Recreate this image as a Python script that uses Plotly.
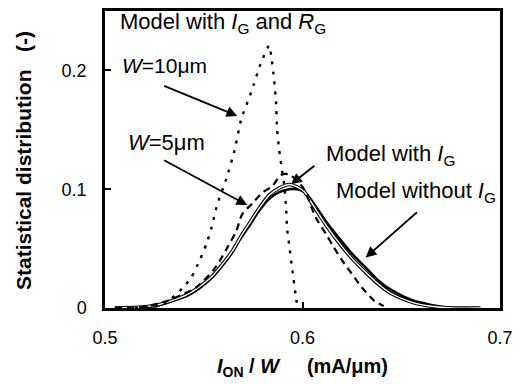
import plotly.graph_objects as go

# I_ON / W (mA/um) and statistical distribution for each model
x_w10_ig_rg = [0.515, 0.5292, 0.5338, 0.5393, 0.5438, 0.5479, 0.5514, 0.5539, 0.5569, 0.5615,
               0.5655, 0.5690, 0.5741, 0.5791, 0.5831, 0.5841, 0.5856, 0.5866, 0.5871, 0.5881,
               0.5892, 0.5907, 0.5917, 0.5922, 0.5932, 0.5947, 0.5967, 0.5975]
y_w10_ig_rg = [0.0, 0.0025, 0.0083, 0.0167, 0.026, 0.040, 0.054, 0.0675, 0.0875, 0.109,
               0.132, 0.159, 0.182, 0.207, 0.221, 0.213, 0.1925, 0.173, 0.151, 0.134,
               0.121, 0.104, 0.084, 0.067, 0.054, 0.034, 0.009, 0.0]

x_w5_ig_rg = [0.505, 0.5191, 0.5327, 0.5388, 0.5463, 0.5554, 0.5620, 0.5665, 0.5695, 0.5746,
              0.5796, 0.5846, 0.5892, 0.5932, 0.5972, 0.6008, 0.6068, 0.6118, 0.6159, 0.6209,
              0.6249, 0.6300, 0.6360, 0.6411]
y_w5_ig_rg = [0.0, 0.0008, 0.0067, 0.011, 0.0175, 0.033, 0.051, 0.065, 0.079, 0.088,
              0.097, 0.1025, 0.112, 0.1125, 0.107, 0.100, 0.076, 0.0625, 0.051, 0.038,
              0.029, 0.0175, 0.0067, 0.0017]

x_model = [0.505, 0.5191, 0.5277, 0.5353, 0.5413, 0.5479, 0.5544, 0.5605, 0.5645, 0.5680,
           0.5730, 0.5781, 0.5831, 0.5882, 0.5932, 0.5972, 0.6008, 0.6048, 0.6118, 0.6184,
           0.6249, 0.6320, 0.6385, 0.6451, 0.6552, 0.6652, 0.6753, 0.69]
y_with_ig = [0.0, 0.0008, 0.003, 0.007, 0.011, 0.018, 0.027, 0.039, 0.048, 0.058,
             0.071, 0.084, 0.095, 0.101, 0.104, 0.102, 0.098, 0.088, 0.070, 0.055,
             0.042, 0.030, 0.020, 0.012, 0.005, 0.0015, 0.0, 0.0]
y_without_ig = [0.0, 0.0008, 0.0025, 0.0067, 0.010, 0.0167, 0.026, 0.038, 0.047, 0.057,
                0.069, 0.082, 0.092, 0.0975, 0.100, 0.100, 0.098, 0.090, 0.073, 0.059,
                0.046, 0.034, 0.023, 0.015, 0.0067, 0.0025, 0.0, 0.0]

x_ticks = [0.5, 0.6, 0.7]
x_tick_text = ["0.5", "0.6", "0.7"]
y_ticks = [0, 0.1, 0.2]
y_tick_text = ["0", "0.1", "0.2"]

FONT = "Liberation Sans, Arial, sans-serif"

fig = go.Figure()
fig.add_trace(go.Scatter(x=x_model, y=y_without_ig, mode="lines",
                         line=dict(color="black", width=2.6, shape="spline", smoothing=0.8)))
# hollow (double) line for the model with I_G
fig.add_trace(go.Scatter(x=x_model, y=y_with_ig, mode="lines",
                         line=dict(color="black", width=3.6, shape="spline", smoothing=0.8)))
fig.add_trace(go.Scatter(x=x_model, y=y_with_ig, mode="lines",
                         line=dict(color="white", width=1.4, shape="spline", smoothing=0.8)))
fig.add_trace(go.Scatter(x=x_w5_ig_rg, y=y_w5_ig_rg, mode="lines",
                         line=dict(color="black", width=2.2, dash="7px,5px",
                                   shape="spline", smoothing=0.8)))
fig.add_trace(go.Scatter(x=x_w10_ig_rg, y=y_w10_ig_rg, mode="lines",
                         line=dict(color="black", width=2.4, dash="3px,7px",
                                   shape="spline", smoothing=0.5)))

tick_font = dict(family=FONT, size=18, color="black")
notes = [
    ("Model with <i>I</i><sub>G</sub> and <i>R</i><sub>G</sub>", 0.5065, 0.240, 22),
    ("<i>W</i>=10μm", 0.5076, 0.204, 21),
    ("<i>W</i>=5μm", 0.5106, 0.139, 22),
    ("Model with <i>I</i><sub>G</sub>", 0.6108, 0.129, 22),
    ("Model without <i>I</i><sub>G</sub>", 0.6159, 0.098, 22),
]
for txt, xx, yy, sz in notes:
    fig.add_annotation(x=xx, y=yy, xref="x", yref="y", text=txt, showarrow=False,
                       xanchor="left", yanchor="middle",
                       font=dict(family=FONT, size=sz, color="black"))

arrows = [
    (0.5292, 0.1875, 0.5670, 0.1617),
    (0.5292, 0.1250, 0.5720, 0.0867),
    (0.6068, 0.1208, 0.5942, 0.1042),
    (0.6587, 0.0817, 0.6320, 0.0425),
]
for tx, ty, hx, hy in arrows:
    fig.add_annotation(x=hx, y=hy, ax=tx, ay=ty, xref="x", yref="y", axref="x", ayref="y",
                       text="", showarrow=True, arrowhead=2, arrowsize=1.2,
                       arrowwidth=1.8, arrowcolor="black")

fig.add_annotation(x=-0.206, y=0.497, xref="paper", yref="paper", textangle=-90,
                   xanchor="center", yanchor="middle",
                   text="<b>Statistical distribution&nbsp;&nbsp;&nbsp;(-)</b>", showarrow=False,
                   font=dict(family=FONT, size=21, color="black"))
fig.add_annotation(x=0.501, y=-0.2, xref="paper", yref="paper",
                   xanchor="center", yanchor="middle",
                   text="<b><i>I</i><sub>ON</sub> / <i>W</i>&nbsp;&nbsp;&nbsp;&nbsp;&nbsp;(mA/μm)</b>",
                   showarrow=False, font=dict(family=FONT, size=20, color="black"))

fig.update_layout(
    width=521, height=385,
    margin=dict(l=105, r=19, t=8, b=77),
    paper_bgcolor="white", plot_bgcolor="white",
    showlegend=False,
    font=dict(family=FONT, size=18, color="black"),
)
fig.update_xaxes(range=[0.5, 0.7], tickvals=x_ticks, ticktext=x_tick_text,
                 ticks="inside", ticklen=6, tickwidth=2, tickcolor="black",
                 showline=True, linecolor="black", linewidth=2.5, mirror=True,
                 showgrid=False, zeroline=False, ticklabelstandoff=12,
                 tickfont=tick_font)
fig.update_yaxes(range=[0, 0.25], tickvals=y_ticks, ticktext=y_tick_text,
                 ticks="inside", ticklen=6, tickwidth=2, tickcolor="black",
                 showline=True, linecolor="black", linewidth=2.5, mirror=True,
                 showgrid=False, zeroline=False, ticklabelstandoff=12,
                 tickfont=tick_font)

fig.write_html("out.html")
